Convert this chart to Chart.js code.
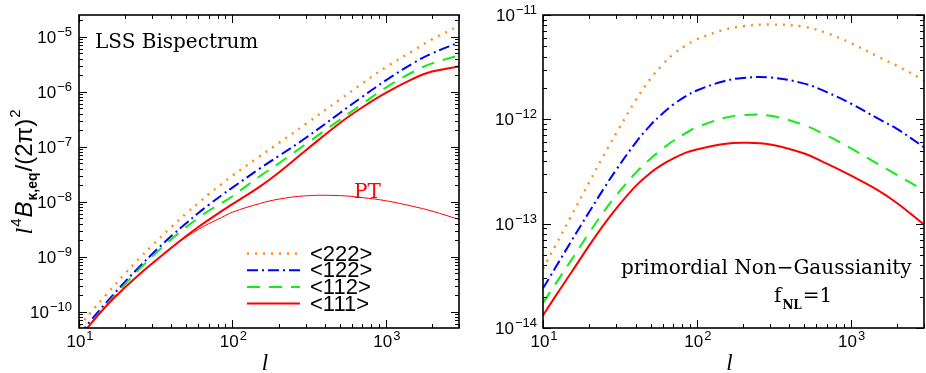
<!DOCTYPE html>
<html>
<head>
<meta charset="utf-8">
<script src="https://cdn.jsdelivr.net/npm/chart.js@4.4.0/dist/chart.umd.min.js"></script>
<style>
  body { margin: 0; background: #fff; }
  #wrap { position: relative; width: 926px; height: 373px; }
  .pane { position: absolute; top: 0; height: 373px; }
</style>
</head>
<body>
<div id="wrap">
  <div class="pane" style="left:0;width:470px"><canvas id="lss" width="470" height="373"></canvas></div>
  <div class="pane" style="left:470px;width:456px"><canvas id="png" width="456" height="373"></canvas></div>
</div>
<script>
// multipole l
const ells = [10, 12, 15, 20, 25, 30, 40, 50, 60, 70, 85, 100, 150, 200, 300, 500, 700, 1000, 1500, 2000, 3000];

// LSS bispectrum, l^4 B / (2pi)^2
const lss222 = [5.5e-11, 1.0e-10, 2.04e-10, 5.0e-10, 9.7e-10, 1.62e-9, 3.5e-9, 6.2e-9, 9.5e-9, 1.38e-8, 2.1e-8, 3.0e-8, 6.7e-8, 1.17e-7, 2.6e-7, 7.2e-7, 1.41e-6, 2.8e-6, 5.56e-6, 9.0e-6, 1.58e-5];
const lss122 = [3.8e-11, 7.1e-11, 1.46e-10, 3.55e-10, 6.8e-10, 1.13e-9, 2.4e-9, 4.1e-9, 6.3e-9, 8.8e-9, 1.32e-8, 1.82e-8, 4.0e-8, 6.8e-8, 1.45e-7, 4.1e-7, 8.1e-7, 1.62e-6, 3.3e-6, 5.0e-6, 7.9e-6];
const lss112 = [3.3e-11, 6.2e-11, 1.32e-10, 3.2e-10, 6.2e-10, 1.01e-9, 2.1e-9, 3.5e-9, 5.1e-9, 6.9e-9, 9.5e-9, 1.27e-8, 2.9e-8, 5.0e-8, 1.12e-7, 3.1e-7, 6.0e-7, 1.2e-6, 2.3e-6, 3.3e-6, 4.6e-6];
const lss111 = [3.3e-11, 6.2e-11, 1.27e-10, 2.8e-10, 4.95e-10, 7.6e-10, 1.47e-9, 2.4e-9, 3.5e-9, 4.7e-9, 6.8e-9, 9.1e-9, 1.88e-8, 3.4e-8, 8.6e-8, 2.7e-7, 5.2e-7, 9.6e-7, 1.72e-6, 2.34e-6, 2.9e-6];
const lssPT = [3.3e-11, 6.2e-11, 1.27e-10, 2.8e-10, 4.95e-10, 7.6e-10, 1.47e-9, 2.3e-9, 3.16e-9, 4.0e-9, 5.2e-9, 6.5e-9, 9.3e-9, 1.12e-8, 1.29e-8, 1.30e-8, 1.2e-8, 1.05e-8, 8.3e-9, 6.8e-9, 4.8e-9];

// primordial non-Gaussianity, fNL = 1
const ng222 = [3.7e-14, 6.1e-14, 1.13e-13, 2.5e-13, 4.6e-13, 7.4e-13, 1.52e-12, 2.45e-12, 3.35e-12, 4.2e-12, 5.1e-12, 5.85e-12, 7.2e-12, 7.8e-12, 8.1e-12, 7.7e-12, 6.7e-12, 5.4e-12, 4.0e-12, 3.26e-12, 2.37e-12];
const ng122 = [2.4e-14, 3.75e-14, 6.5e-14, 1.3e-13, 2.2e-13, 3.3e-13, 5.96e-13, 8.8e-13, 1.14e-12, 1.38e-12, 1.67e-12, 1.89e-12, 2.32e-12, 2.49e-12, 2.52e-12, 2.2e-12, 1.82e-12, 1.42e-12, 1.02e-12, 8.1e-13, 5.4e-13];
const ng112 = [1.74e-14, 2.62e-14, 4.3e-14, 8.2e-14, 1.32e-13, 1.87e-13, 3.07e-13, 4.2e-13, 5.25e-13, 6.2e-13, 7.4e-13, 8.4e-13, 1.03e-12, 1.10e-12, 1.08e-12, 8.8e-13, 7.0e-13, 5.3e-13, 3.75e-13, 2.94e-13, 2.07e-13];
const ng111 = [1.32e-14, 2.0e-14, 3.27e-14, 6.2e-14, 9.9e-14, 1.40e-13, 2.29e-13, 3.07e-13, 3.7e-13, 4.2e-13, 4.8e-13, 5.15e-13, 5.8e-13, 5.96e-13, 5.75e-13, 4.7e-13, 3.76e-13, 2.9e-13, 2.1e-13, 1.58e-13, 9.8e-14];

// tick label exponents
const xExps = [1, 2, 3];
const lssYExps = [-5, -6, -7, -8, -9, -10];
const ngYExps = [-11, -12, -13, -14];

const legendLabels = ['<222>', '<122>', '<112>', '<111>'];

const colors = { o: '#ff8c1a', b: '#0000ff', g: '#11ee11', r: '#ff0000' };
const dashes = { o: [2, 6], b: [11, 4, 2, 4], g: [13, 9], r: [] };
const SANS = '"Liberation Sans", Arial, sans-serif';
const SERIF = '"DejaVu Serif", serif';

function line(ctx, x1, y1, x2, y2) {
  ctx.beginPath(); ctx.moveTo(x1, y1); ctx.lineTo(x2, y2); ctx.stroke();
}

function logTicks(min, max) {
  const out = [];
  for (let e = Math.floor(Math.log10(min)); e <= Math.ceil(Math.log10(max)); e++) {
    for (let k = 1; k <= 9; k++) {
      const v = k * Math.pow(10, e);
      if (v >= min * 0.999 && v <= max * 1.001) out.push({ v, major: k === 1 });
    }
  }
  return out;
}

// "10" with a raised exponent
function powLabel(ctx, exp, x, y, align) {
  const base = '10', e = String(exp).replace('-', '\u2212');
  ctx.font = '17px ' + SANS;
  const wb = ctx.measureText(base).width;
  ctx.font = '13px ' + SANS;
  const we = ctx.measureText(e).width;
  let x0 = x;
  if (align === 'right') x0 = x - wb - we - 1;
  if (align === 'center') x0 = x - (wb + we + 1) / 2;
  ctx.textAlign = 'left';
  ctx.textBaseline = 'alphabetic';
  ctx.font = '17px ' + SANS;
  ctx.fillText(base, x0, y);
  ctx.font = '13px ' + SANS;
  ctx.fillText(e, x0 + wb + 1, y - 7);
}

// box, inward ticks on all sides, tick labels
const frame = {
  id: 'frame',
  afterDatasetsDraw(chart, args, opts) {
    const { ctx, chartArea: a, scales: { x, y } } = chart;
    ctx.save();
    ctx.strokeStyle = '#000';
    ctx.lineWidth = 1;
    logTicks(x.min, x.max).forEach(t => {
      const px = Math.round(x.getPixelForValue(t.v)) + 0.5;
      const len = t.major ? 8 : 4;
      line(ctx, px, a.bottom, px, a.bottom - len);
      line(ctx, px, a.top, px, a.top + len);
    });
    logTicks(y.min, y.max).forEach(t => {
      const py = Math.round(y.getPixelForValue(t.v)) + 0.5;
      const len = t.major ? 8 : 4;
      line(ctx, a.left, py, a.left + len, py);
      line(ctx, a.right, py, a.right - len, py);
    });
    ctx.lineWidth = 1.6;
    ctx.strokeRect(a.left, a.top, a.right - a.left, a.bottom - a.top);

    ctx.fillStyle = '#000';
    xExps.forEach(e => {
      powLabel(ctx, e, x.getPixelForValue(Math.pow(10, e)) + 1, a.bottom + 19, 'center');
    });
    opts.yExps.forEach(e => {
      powLabel(ctx, e, a.left - opts.gap, y.getPixelForValue(Math.pow(10, e)) + 6, 'right');
    });

    // x title
    ctx.font = 'italic 23px "Liberation Serif", serif';
    ctx.textAlign = 'center';
    ctx.fillText('l', (a.left + a.right) / 2 - 4, 370);
    ctx.restore();
  }
};

// LSS panel: labels, legend and y title
const lssNotes = {
  id: 'lssNotes',
  afterDraw(chart) {
    const { ctx, chartArea: a } = chart;
    ctx.save();
    ctx.fillStyle = '#000';
    ctx.textAlign = 'left';
    ctx.textBaseline = 'alphabetic';
    ctx.font = '20px ' + SERIF;
    ctx.fillText('LSS Bispectrum', 95, 48);

    ctx.fillStyle = colors.r;
    ctx.fillText('PT', 354, 198);

    const keys = ['o', 'b', 'g', 'r'];
    keys.forEach((k, i) => {
      const yy = 253.5 + i * 16.7;
      ctx.strokeStyle = colors[k];
      ctx.lineWidth = k === 'o' ? 2.4 : 2;
      ctx.setLineDash(dashes[k]);
      line(ctx, 247, yy, 300, yy);
      ctx.setLineDash([]);
      ctx.fillStyle = '#000';
      ctx.font = '22px ' + SANS;
      ctx.textBaseline = 'middle';
      ctx.fillText(legendLabels[i], 310, yy + 1);
    });

    // y title, rotated
    ctx.translate(32, (a.top + a.bottom) / 2);
    ctx.rotate(-Math.PI / 2);
    ctx.textBaseline = 'alphabetic';
    const parts = [
      ['l', 'italic 24px "Liberation Serif", serif', 0],
      ['4', '15px ' + SANS, -11],
      ['B', 'italic 24px ' + SANS, 0],
      ['\u03ba,eq', 'bold 14px ' + SANS, 5],
      ['/(2\u03c0)', '24px ' + SANS, 0],
      ['2', '15px ' + SANS, -12]
    ];
    let total = 0;
    parts.forEach(p => { ctx.font = p[1]; total += ctx.measureText(p[0]).width + 1; });
    let cx = -total / 2;
    parts.forEach(p => {
      ctx.font = p[1];
      ctx.fillText(p[0], cx, p[2]);
      cx += ctx.measureText(p[0]).width + 1;
    });
    ctx.restore();
  }
};

const ngNotes = {
  id: 'ngNotes',
  afterDraw(chart) {
    const { ctx } = chart;
    ctx.save();
    ctx.fillStyle = '#000';
    ctx.textAlign = 'left';
    ctx.textBaseline = 'alphabetic';
    ctx.font = '20px ' + SERIF;
    ctx.fillText('primordial Non\u2212Gaussianity', 151, 274);
    ctx.fillText('f', 304, 302);
    let w = ctx.measureText('f').width;
    ctx.font = 'bold 12px ' + SERIF;
    ctx.fillText('NL', 304 + w + 1, 309);
    w += ctx.measureText('NL').width + 2;
    ctx.font = '20px ' + SERIF;
    ctx.fillText('=1', 304 + w, 302);
    ctx.restore();
  }
};

function ds(data, k, width) {
  return {
    data: data.map((v, i) => ({ x: ells[i], y: v })),
    borderColor: colors[k],
    borderDash: dashes[k],
    borderWidth: width || (k === 'o' ? 2.4 : 2),
    borderCapStyle: 'butt',
    pointRadius: 0,
    fill: false,
    tension: 0.4
  };
}

function makeOptions(yMin, yMax, yWidth, padRight, yExps, gap) {
  return {
    responsive: false,
    animation: false,
    layout: { padding: { top: 15, right: padRight, left: 0, bottom: 0 } },
    plugins: {
      legend: { display: false },
      tooltip: { enabled: false },
      frame: { yExps: yExps, gap: gap }
    },
    scales: {
      x: {
        type: 'logarithmic', min: 10, max: 3000,
        grid: { display: false }, border: { display: false },
        ticks: { display: false },
        afterFit: s => { s.height = 45; }
      },
      y: {
        type: 'logarithmic', min: yMin, max: yMax,
        grid: { display: false }, border: { display: false },
        ticks: { display: false },
        afterFit: s => { s.width = yWidth; }
      }
    }
  };
}

new Chart(document.getElementById('lss'), {
  type: 'line',
  data: {
    datasets: [
      ds(lssPT, 'r', 1),
      ds(lss111, 'r'),
      ds(lss112, 'g'),
      ds(lss122, 'b'),
      ds(lss222, 'o')
    ]
  },
  options: makeOptions(5.1e-11, 2.5e-5, 79, 11, lssYExps, 7),
  plugins: [frame, lssNotes]
});

new Chart(document.getElementById('png'), {
  type: 'line',
  data: {
    datasets: [
      ds(ng111, 'r'),
      ds(ng112, 'g'),
      ds(ng122, 'b'),
      ds(ng222, 'o')
    ]
  },
  options: makeOptions(1e-14, 1e-11, 73, 2, ngYExps, 6),
  plugins: [frame, ngNotes]
});
</script>
</body>
</html>
